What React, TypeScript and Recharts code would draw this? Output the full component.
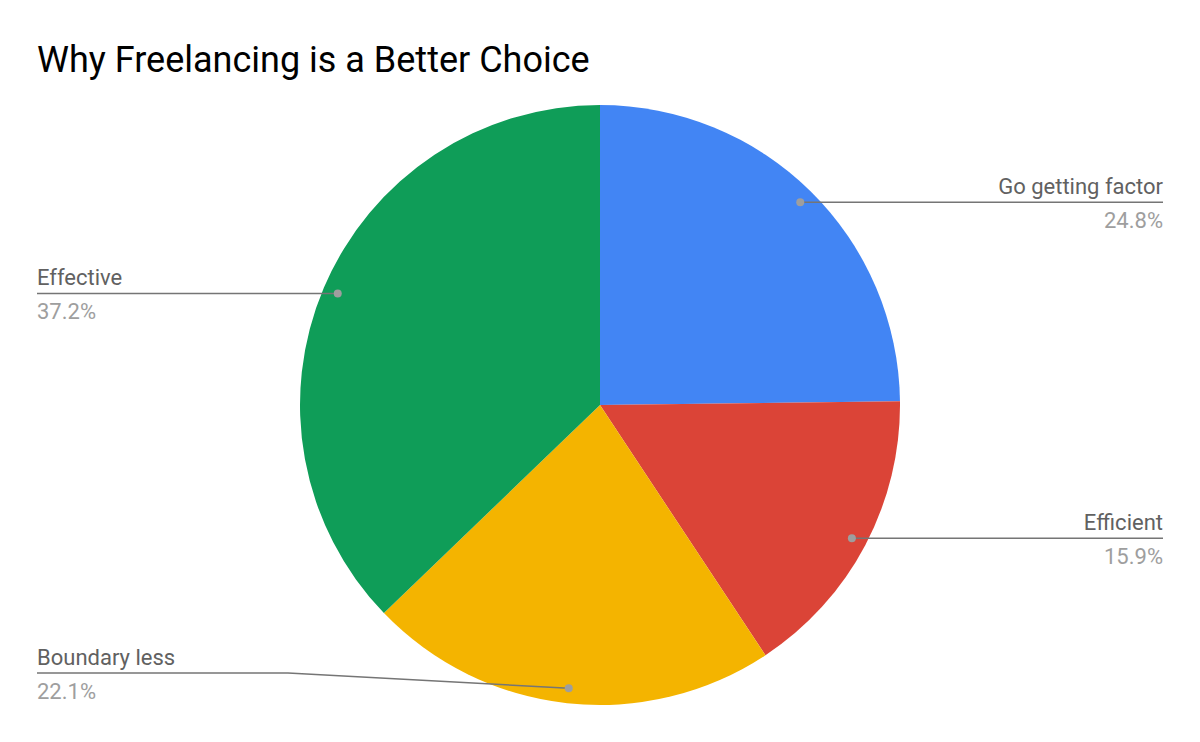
import { PieChart, Pie, Cell } from 'recharts';

const categories = ['Go getting factor', 'Efficient', 'Boundary less', 'Effective'];
const shares = [24.8, 15.9, 22.1, 37.2];
const COLORS = ['#4285f4', '#db4437', '#f4b400', '#0f9d58'];

const chartData = categories.map((name, i) => ({ name, value: shares[i] }));

const RAD = Math.PI / 180;
const WIDTH = 1200;
const HEIGHT = 742;
const EDGE = 37;

// Google-style callout: dot inside slice, line to chart edge, name above, percent below
const renderLabel = (props: any) => {
    const { cx, cy, midAngle, outerRadius, percent, name } = props;
    const r = outerRadius * 0.95;
    const x = cx + r * Math.cos(-midAngle * RAD);
    const y = cy + r * Math.sin(-midAngle * RAD);
    const right = x >= cx;
    // keep label block inside the chart
    const lineY = Math.max(110, Math.min(y, HEIGHT - 69));
    const elbowX = right ? cx + outerRadius + 12 : cx - outerRadius - 12;
    const endX = right ? WIDTH - EDGE : EDGE;
    const anchor = right ? 'end' : 'start';
    return (
        <g>
            <polyline
                points={`${x},${y} ${elbowX},${lineY} ${endX},${lineY}`}
                fill="none"
                stroke="#757575"
                strokeWidth={1.5}
            />
            <circle cx={x} cy={y} r={4} fill="#9e9e9e" />
            <text x={endX} y={lineY - 8} textAnchor={anchor} fontSize={22} fill="#616161" fontFamily="Roboto">
                {name}
            </text>
            <text x={endX} y={lineY + 26} textAnchor={anchor} fontSize={22} fill="#9e9e9e" fontFamily="Roboto">
                {(percent * 100).toFixed(1)}%
            </text>
        </g>
    );
};

export default function App() {
    return (
        <div style={{ position: 'absolute', left: 0, top: 0, width: WIDTH, height: HEIGHT, background: '#fff', fontFamily: 'Roboto' }}>
            <div style={{ position: 'absolute', left: 37, top: 40, fontSize: 36, color: '#000', lineHeight: '40px', whiteSpace: 'nowrap' }}>
                Why Freelancing is a Better Choice
            </div>
            <PieChart width={WIDTH} height={HEIGHT} margin={{ top: 0, right: 0, bottom: 0, left: 0 }}>
                <Pie
                    data={chartData}
                    dataKey="value"
                    nameKey="name"
                    cx={600}
                    cy={405}
                    outerRadius={300}
                    startAngle={90}
                    endAngle={-270}
                    stroke="none"
                    label={renderLabel}
                    labelLine={false}
                    isAnimationActive={false}
                >
                    {chartData.map((_entry, index) => (
                        <Cell key={`cell-${index}`} fill={COLORS[index % COLORS.length]} />
                    ))}
                </Pie>
            </PieChart>
        </div>
    );
}
